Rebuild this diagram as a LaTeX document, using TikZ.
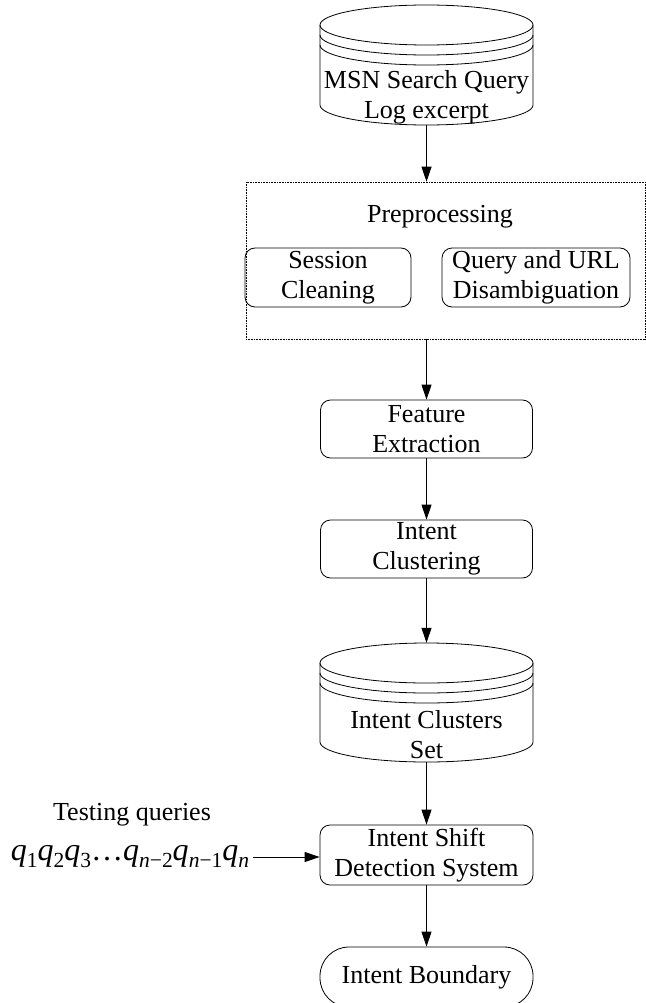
\documentclass[tikz,border=0pt]{standalone}
\usepackage{fontspec}
\setmainfont{Liberation Serif}
\usetikzlibrary{arrows.meta}
\newcommand\qsub[1]{\textit{q}\raisebox{-0.22em}{\fontsize{21.5}{21.5}\selectfont #1}}
\begin{document}
\begin{tikzpicture}[x=1pt,y=-1pt,
  every node/.style={font=\fontsize{26}{30}\selectfont, align=center, inner sep=0pt},
  proc/.style={draw, line width=0.8pt, rounded corners=10pt, minimum height=58pt},
  cyl/.style={minimum width=213pt, minimum height=120pt},
  conn/.style={line width=0.8pt, -{Triangle[length=15pt,width=10pt]}},
  db/.style={line width=0.8pt},
  group/.style={draw, line width=0.6pt, dash pattern=on 0.8pt off 0.8pt}]
\useasboundingbox (0,0) rectangle (645,1003);

% top database
\node[cyl] (msn) at (426.5,65) {};
\draw[db] (320,25) arc[start angle=180,end angle=360,x radius=106.5,y radius=20]
  -- (533,105) arc[start angle=0,end angle=180,x radius=106.5,y radius=20] -- cycle;
\draw[db] (320,25) arc[start angle=180,end angle=0,x radius=106.5,y radius=20];
\draw[db] (320,35) arc[start angle=180,end angle=0,x radius=106.5,y radius=20];
\draw[db] (320,45) arc[start angle=180,end angle=0,x radius=106.5,y radius=20];
\node (msnt) at (426.5,97) {MSN Search Query\\Log excerpt};

% preprocessing group
\node[group, minimum width=399pt, minimum height=157pt] (pre) at (445.5,260.5) {};
\node (pret) at (440,217) {Preprocessing};
\node[proc, minimum width=166pt, minimum height=59pt] (sess) at (328,277.5) {Session\\Cleaning};
\node[proc, minimum width=188pt, minimum height=59pt] (qurl) at (536,277.5) {Query and URL\\Disambiguation};

\node[proc, minimum width=212pt] (feat) at (426.5,429) {Feature\\Extraction};
\node[proc, minimum width=212pt] (clus) at (426.5,549) {Intent\\Clustering};

% clusters database
\node[cyl, minimum height=119pt] (set) at (426.5,702.5) {};
\draw[db] (320,663) arc[start angle=180,end angle=360,x radius=106.5,y radius=20]
  -- (533,742) arc[start angle=0,end angle=180,x radius=106.5,y radius=20] -- cycle;
\draw[db] (320,663) arc[start angle=180,end angle=0,x radius=106.5,y radius=20];
\draw[db] (320,673) arc[start angle=180,end angle=0,x radius=106.5,y radius=20];
\draw[db] (320,683) arc[start angle=180,end angle=0,x radius=106.5,y radius=20];
\node (sett) at (426.5,735) {Intent Clusters\\Set};

\node[proc, minimum width=213pt, minimum height=60pt] (det) at (426.5,855) {Intent Shift\\Detection System};
\node[proc, minimum width=213pt, minimum height=60pt, rounded corners=29pt] (bound) at (426.5,977) {Intent Boundary};

\node (test) at (132,815) {Testing queries};
\node[font=\fontsize{32}{32}\selectfont] (qs) at (130,857)
  {\qsub{1}\qsub{2}\qsub{3}…\qsub{\textit{n}−2}\qsub{\textit{n}−1}\qsub{\textit{n}}};

\draw[conn] (msn) -- (msn |- pre.north);
\draw[conn] (pre.south -| msn) -- (feat);
\draw[conn] (feat) -- (clus);
\draw[conn] (clus) -- (set);
\draw[conn] (set) -- (det);
\draw[conn] (det) -- (bound);
\draw[conn, shorten <=4pt] (qs.east) -- (det.west |- qs.east);
\end{tikzpicture}
\end{document}
